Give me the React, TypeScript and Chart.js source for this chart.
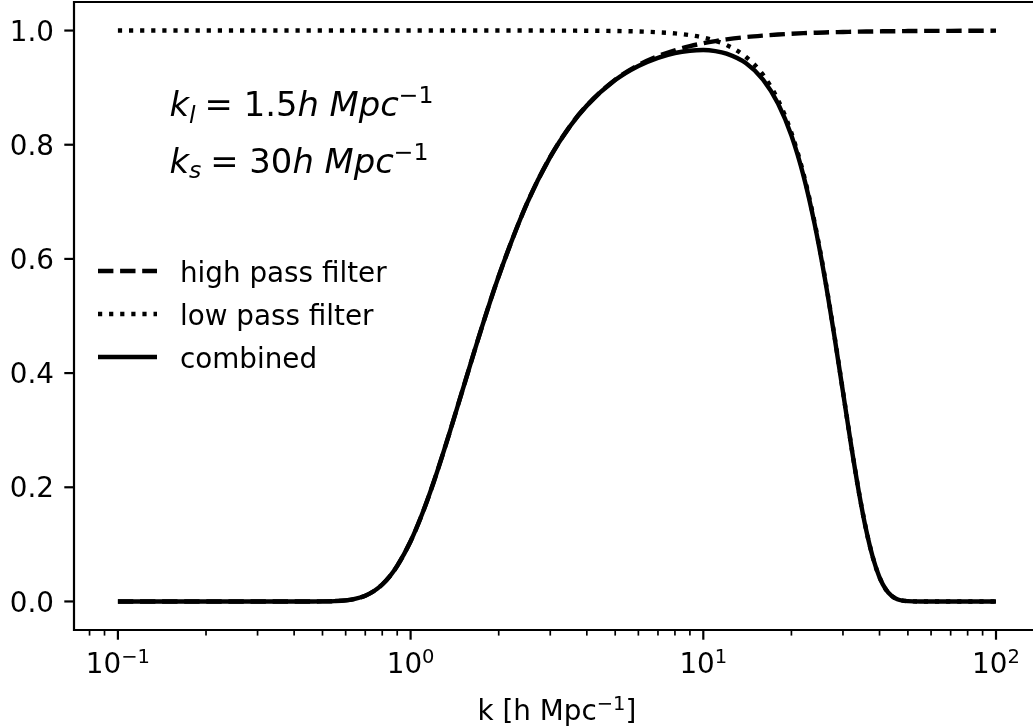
import React, { useEffect, useRef } from "react";
import { Chart, registerables } from "chart.js";

Chart.register(...registerables);

// ---- data ----
const K = [
  0.1, 0.2, 0.3, 0.4, 0.45, 0.5, 0.55, 0.6, 0.65, 0.7, 0.75, 0.8, 0.85, 0.9, 1.0,
  1.1, 1.2, 1.35, 1.5, 1.75, 2, 2.5, 3, 3.5, 4, 5, 6, 7, 8, 9, 10, 11, 12, 14, 16,
  18, 20, 22, 24, 26, 28, 30, 32, 34, 36, 38, 40, 42, 44, 46, 48, 50, 55, 60, 70,
  80, 100,
];
const HIGH_PASS = [
  0, 0, 0, 0, 0, 0.0001, 0.0006, 0.0019, 0.0049, 0.0101, 0.0183, 0.0297, 0.0444,
  0.0622, 0.1054, 0.1557, 0.2096, 0.2909, 0.3679, 0.4797, 0.5698, 0.6977, 0.7788,
  0.8322, 0.8688, 0.9139, 0.9394, 0.9551, 0.9655, 0.9726, 0.9778, 0.9816, 0.9845,
  0.9886, 0.9912, 0.9931, 0.9944, 0.9954, 0.9961, 0.9967, 0.9971, 0.9975, 0.9978,
  0.9981, 0.9983, 0.9984, 0.9986, 0.9987, 0.9988, 0.9989, 0.999, 0.9991, 0.9993,
  0.9994, 0.9995, 0.9996, 0.9998,
];
const LOW_PASS = [
  1, 1, 1, 1, 1, 1, 1, 1, 1, 1, 1, 1, 1, 1, 1, 1, 1, 1, 1, 1, 1, 1, 0.9999, 0.9998,
  0.9997, 0.9992, 0.9984, 0.997, 0.995, 0.9919, 0.9877, 0.9821, 0.9747, 0.9537,
  0.9223, 0.8784, 0.8208, 0.7489, 0.6639, 0.5688, 0.4682, 0.3679, 0.274, 0.1921,
  0.1257, 0.0762, 0.0424, 0.0215, 0.0098, 0.004, 0.0014, 0.0005, 0, 0, 0, 0, 0,
];
const COMBINED = [
  0, 0, 0, 0, 0, 0.0001, 0.0006, 0.0019, 0.0049, 0.0101, 0.0183, 0.0297, 0.0444,
  0.0622, 0.1054, 0.1557, 0.2096, 0.2909, 0.3679, 0.4797, 0.5698, 0.6977, 0.7787,
  0.832, 0.8685, 0.9132, 0.9379, 0.9522, 0.9607, 0.9647, 0.9658, 0.964, 0.9596,
  0.9428, 0.9142, 0.8723, 0.8162, 0.7455, 0.6613, 0.5669, 0.4668, 0.367, 0.2734,
  0.1917, 0.1255, 0.0761, 0.0423, 0.0215, 0.0098, 0.004, 0.0014, 0.0005, 0, 0, 0,
  0, 0,
];
const SERIES_NAMES = ["high pass filter", "low pass filter", "combined"];

const Y_TICKS = [0, 0.2, 0.4, 0.6, 0.8, 1.0];
const X_MAJOR_TICKS = [0.1, 1, 10, 100];
const X_TICK_EXPONENTS = ["\u22121", "0", "1", "2"];
const X_MINOR_MULTIPLIERS = [2, 3, 4, 5, 6, 7, 8, 9];
const X_TITLE = ["k [h Mpc", "\u22121", "]"];
// visible x range (the right part of the axes box is cut off by the image edge)
const X_MIN = Math.pow(10, -1.15);
const X_MAX = Math.pow(10, 2.1264);
const ANNOTATION_X = 0.15;
const ANNOTATIONS = [
  { y: 0.85, sub: "l", value: "1.5", subDrop: 7 },
  { y: 0.75, sub: "s", value: "30", subDrop: 4.5 },
];

// ---- styles ----
const FONT = '"DejaVu Sans", sans-serif';
const BASE = 27.8;
const SMALL = 19.5;
const MATH = 33.8;
const MATH_SMALL = 23.6;
const LW = 4.4;
const DASH = [15.4, 6.7];
const DOT = [4.2, 6.9];

type Seg = { t: string; size: number; italic?: boolean; dy?: number; gap?: number };

function drawSegs(
  ctx: CanvasRenderingContext2D,
  segs: Seg[],
  x: number,
  y: number,
  align: "left" | "center"
) {
  const fontOf = (s: Seg) => `${s.italic ? "italic " : ""}${s.size}px ${FONT}`;
  const widths = segs.map((s) => {
    ctx.font = fontOf(s);
    return ctx.measureText(s.t).width + (s.gap || 0);
  });
  const total = widths.reduce((a, b) => a + b, 0);
  let cx = align === "center" ? x - total / 2 : x;
  ctx.textAlign = "left";
  ctx.textBaseline = "alphabetic";
  ctx.fillStyle = "#000";
  segs.forEach((s, i) => {
    ctx.font = fontOf(s);
    ctx.fillText(s.t, cx, y + (s.dy || 0));
    cx += widths[i];
  });
}

const overlay = {
  id: "overlay",
  afterDraw(chart: any) {
    const ctx: CanvasRenderingContext2D = chart.ctx;
    const ca = chart.chartArea;
    const xs = chart.scales.x;
    const ys = chart.scales.y;
    ctx.save();

    // spines (right spine lies beyond the visible canvas)
    ctx.strokeStyle = "#000";
    ctx.lineWidth = 2.2;
    ctx.lineCap = "square";
    ctx.setLineDash([]);
    ctx.beginPath();
    ctx.moveTo(chart.width + 5, ca.top);
    ctx.lineTo(ca.left, ca.top);
    ctx.lineTo(ca.left, ca.bottom);
    ctx.lineTo(chart.width + 5, ca.bottom);
    ctx.stroke();
    ctx.lineCap = "butt";

    // y ticks + labels
    Y_TICKS.forEach((v) => {
      const py = ys.getPixelForValue(v);
      ctx.lineWidth = 2.2;
      ctx.beginPath();
      ctx.moveTo(ca.left, py);
      ctx.lineTo(ca.left - 9.7, py);
      ctx.stroke();
      ctx.font = `${BASE}px ${FONT}`;
      ctx.textAlign = "right";
      ctx.textBaseline = "alphabetic";
      ctx.fillStyle = "#000";
      ctx.fillText(v.toFixed(1), ca.left - 20, py + 10.1);
    });

    // x ticks (major + minor)
    for (let n = -2; n <= 2; n++) {
      const dec = Math.pow(10, n);
      [1, ...X_MINOR_MULTIPLIERS].forEach((m) => {
        const v = m * dec;
        if (v < xs.min || v > xs.max) return;
        const px = xs.getPixelForValue(v);
        const major = m === 1;
        ctx.lineWidth = major ? 2.2 : 1.7;
        ctx.beginPath();
        ctx.moveTo(px, ca.bottom);
        ctx.lineTo(px, ca.bottom + (major ? 9.7 : 5.6));
        ctx.stroke();
      });
    }
    X_MAJOR_TICKS.forEach((v, i) => {
      drawSegs(
        ctx,
        [
          { t: "10", size: BASE },
          { t: X_TICK_EXPONENTS[i], size: SMALL, dy: -10 },
        ],
        xs.getPixelForValue(v),
        ca.bottom + 43,
        "center"
      );
    });

    // x title (centred on the full axes box, whose right edge is cut off)
    const fullRight = xs.getPixelForValue(Math.pow(10, 2.15));
    drawSegs(
      ctx,
      [
        { t: X_TITLE[0], size: BASE },
        { t: X_TITLE[1], size: SMALL, dy: -10 },
        { t: X_TITLE[2], size: BASE },
      ],
      (ca.left + fullRight) / 2,
      ca.bottom + 90,
      "center"
    );

    // legend
    const dashes = [DASH, DOT, []];
    SERIES_NAMES.forEach((name, i) => {
      const ly = 271 + i * 43;
      ctx.lineWidth = LW;
      ctx.lineCap = "butt";
      ctx.setLineDash(dashes[i]);
      ctx.beginPath();
      ctx.moveTo(98, ly);
      ctx.lineTo(157, ly);
      ctx.stroke();
      ctx.setLineDash([]);
      ctx.font = `${BASE}px ${FONT}`;
      ctx.textAlign = "left";
      ctx.textBaseline = "alphabetic";
      ctx.fillStyle = "#000";
      ctx.fillText(name, 180, ly + 10.5);
    });

    // annotations
    ANNOTATIONS.forEach((a) => {
      drawSegs(
        ctx,
        [
          { t: "k", size: MATH, italic: true },
          { t: a.sub, size: MATH_SMALL, italic: true, dy: a.subDrop, gap: 9 },
          { t: "= ", size: MATH },
          { t: a.value, size: MATH },
          { t: "h", size: MATH, italic: true },
          { t: " ", size: MATH },
          { t: "Mpc", size: MATH, italic: true },
          { t: "\u22121", size: MATH_SMALL, dy: -13 },
        ],
        xs.getPixelForValue(ANNOTATION_X),
        ys.getPixelForValue(a.y),
        "left"
      );
    });

    ctx.restore();
  },
};

export default function App() {
  const ref = useRef<HTMLCanvasElement>(null);

  useEffect(() => {
    if (!ref.current) return;
    const mk = (vals: number[]) => K.map((k, i) => ({ x: k, y: vals[i] }));
    const common = {
      borderColor: "#000",
      backgroundColor: "#000",
      borderWidth: LW,
      pointRadius: 0,
      fill: false,
      cubicInterpolationMode: "monotone" as const,
    };
    const chart = new Chart(ref.current, {
      type: "line",
      data: {
        datasets: [
          { ...common, label: SERIES_NAMES[0], data: mk(HIGH_PASS), borderDash: DASH, order: 3 },
          { ...common, label: SERIES_NAMES[1], data: mk(LOW_PASS), borderDash: DOT, order: 2 },
          { ...common, label: SERIES_NAMES[2], data: mk(COMBINED), order: 1, borderJoinStyle: "round" },
        ],
      },
      options: {
        animation: false,
        responsive: false,
        devicePixelRatio: 1,
        layout: { padding: { top: 2, right: 0, left: 0, bottom: 0 } },
        plugins: { legend: { display: false }, tooltip: { enabled: false } },
        scales: {
          x: {
            type: "logarithmic",
            min: X_MIN,
            max: X_MAX,
            border: { display: false },
            grid: { display: false },
            ticks: { display: false },
            afterFit: (s: any) => {
              s.height = 98;
            },
          },
          y: {
            type: "linear",
            min: -0.05,
            max: 1.05,
            border: { display: false },
            grid: { display: false },
            ticks: { display: false },
            afterFit: (s: any) => {
              s.width = 74;
            },
          },
        },
      },
      plugins: [overlay],
    });
    return () => chart.destroy();
  }, []);

  return (
    <div style={{ position: "fixed", left: 0, top: 0, width: 1033, height: 728, background: "#fff" }}>
      <canvas ref={ref} width={1033} height={728} style={{ display: "block", width: 1033, height: 728 }} />
    </div>
  );
}
